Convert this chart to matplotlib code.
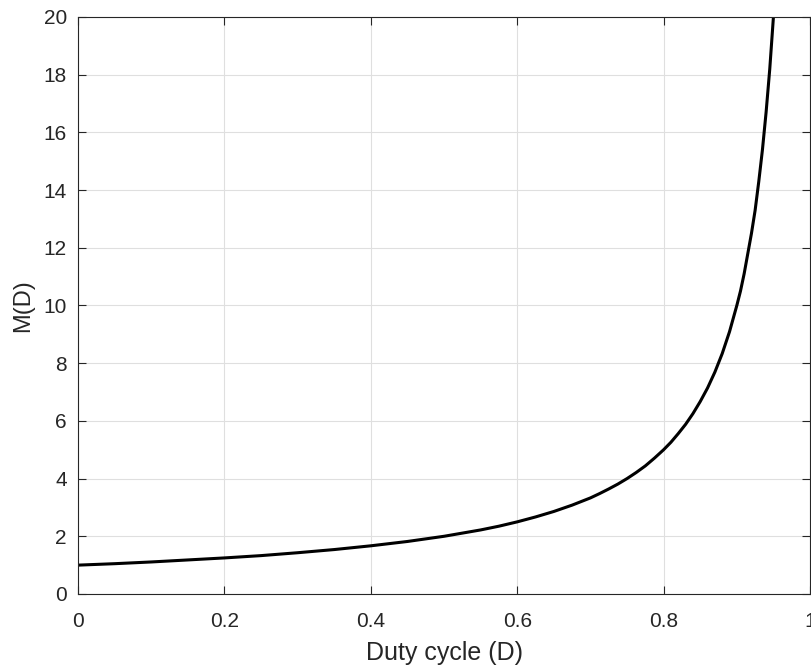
import matplotlib
matplotlib.use("Agg")
import matplotlib.pyplot as plt

# values
duty = [0.0, 0.05, 0.1, 0.15, 0.2, 0.25, 0.3, 0.35, 0.4, 0.45, 0.5, 0.525,
        0.55, 0.575, 0.6, 0.625, 0.65, 0.675, 0.7, 0.7125, 0.725, 0.7375,
        0.75, 0.7625, 0.775, 0.7875, 0.8, 0.81, 0.82, 0.83, 0.84, 0.85,
        0.86, 0.87, 0.88, 0.89, 0.9, 0.905, 0.91, 0.915, 0.92, 0.925,
        0.93, 0.935, 0.94, 0.945, 0.95]
gain = [1.0, 1.05, 1.11, 1.18, 1.25, 1.33, 1.43, 1.54, 1.67, 1.82, 2.0, 2.11,
        2.22, 2.35, 2.5, 2.67, 2.86, 3.08, 3.33, 3.48, 3.64, 3.81,
        4.0, 4.21, 4.44, 4.71, 5.0, 5.26, 5.56, 5.88, 6.25, 6.67,
        7.14, 7.69, 8.33, 9.09, 10.0, 10.5, 11.1, 11.8, 12.5, 13.3,
        14.3, 15.4, 16.7, 18.2, 20.0]

xticks = [0, 0.2, 0.4, 0.6, 0.8, 1]
xticklabels = ["0", "0.2", "0.4", "0.6", "0.8", "1"]
yticks = list(range(0, 21, 2))

plt.rcParams['font.family'] = ['Liberation Sans', 'DejaVu Sans']

fig = plt.figure(figsize=(8.11, 6.68), dpi=100)
ax = fig.add_axes([0.0962, 0.1108, 0.9026, 0.8638])

ax.plot(duty, gain, color="black", linewidth=2.2)

ax.set_xlim(0, 1)
ax.set_ylim(0, 20)
ax.set_xticks(xticks)
ax.set_xticklabels(xticklabels)
ax.set_yticks(yticks)
ax.grid(True, color="#dfdfdf", linewidth=0.8)
ax.set_axisbelow(True)

ax.tick_params(direction="in", length=6, width=0.8, top=True, right=True,
               labelsize=15, colors="#262626")
ax.tick_params(axis="x", pad=13)
ax.tick_params(axis="y", pad=8)
for s in ax.spines.values():
    s.set_color("#262626")
    s.set_linewidth(0.8)

ax.set_xlabel("Duty cycle (D)", fontsize=18, color="#262626", labelpad=7)
ax.set_ylabel("M(D)", fontsize=17, color="#262626", labelpad=7)

fig.savefig("out.png", dpi=100)
